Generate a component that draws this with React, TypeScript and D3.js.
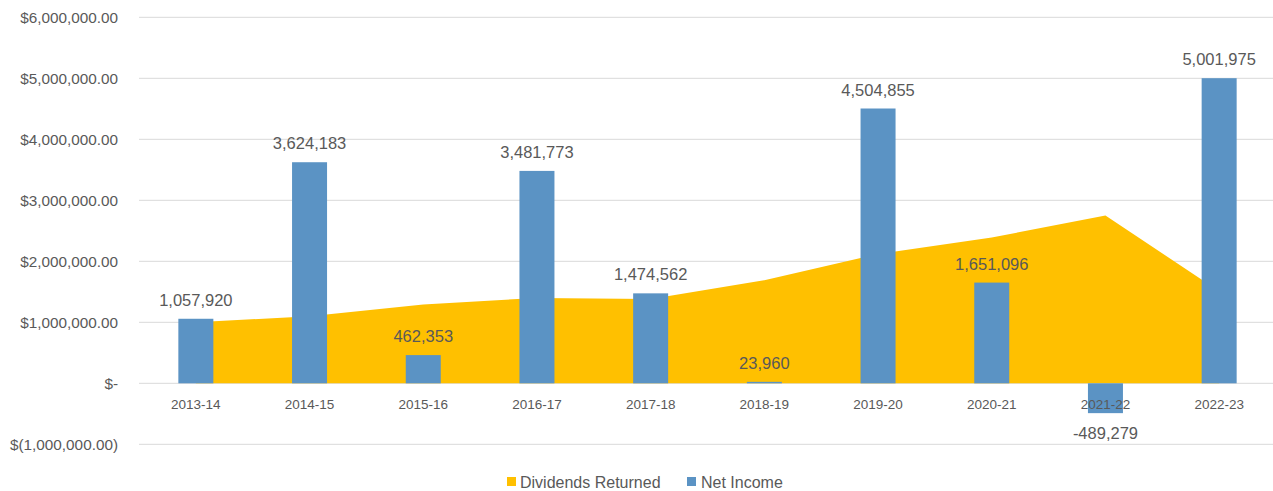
import React from 'react';
import * as d3 from 'd3';

const years = ['2013-14', '2014-15', '2015-16', '2016-17', '2017-18', '2018-19', '2019-20', '2020-21', '2021-22', '2022-23'];
const netIncome = [1057920, 3624183, 462353, 3481773, 1474562, 23960, 4504855, 1651096, -489279, 5001975];
const dividends = [1000000, 1100000, 1290000, 1400000, 1380000, 1690000, 2120000, 2390000, 2750000, 1510000];
const yTicks = [-1000000, 0, 1000000, 2000000, 3000000, 4000000, 5000000, 6000000];

const W = 1273;
const H = 491;
const FONT = '"Liberation Sans", Arial, sans-serif';
const GRAY = '#595959';
const GOLD = '#FFC000';
const BLUE = '#5B93C4';

const money = (v: number) => {
  if (v === 0) return '$-';
  const s = d3.format(',.2f')(Math.abs(v));
  return v < 0 ? `$(${s})` : `$${s}`;
};

// plain hyphen for negatives, like the source sheet
const num = (v: number) => (v < 0 ? '-' : '') + d3.format(',')(Math.abs(v));

const App: React.FC = () => {
  const x = d3.scaleBand<string>().domain(years).range([139, 1276]).padding(0);
  const y = d3.scaleLinear().domain([-1000000, 6000000]).range([444.3, 17.3]);
  const bw = 35;
  const cx = (d: string) => (x(d) ?? 0) + x.bandwidth() / 2;

  const area = d3
    .area<number>()
    .x((_, i) => cx(years[i]))
    .y0(y(0))
    .y1((d) => y(d));

  return (
    <svg
      width={W}
      height={H}
      style={{ position: 'absolute', left: 0, top: 0, background: '#fff', fontFamily: FONT }}
    >
      {/* grid */}
      {yTicks.map((t) => (
        <g key={t}>
          <line x1={139} x2={W} y1={y(t)} y2={y(t)} stroke="#d9d9d9" strokeWidth={1} />
          <text
            x={118}
            y={y(t)}
            textAnchor="end"
            dominantBaseline="central"
            fontSize={15.3}
            fill={GRAY}
          >
            {money(t)}
          </text>
        </g>
      ))}

      {/* dividends area */}
      <path d={area(dividends) ?? ''} fill={GOLD} />

      {/* net income bars */}
      {netIncome.map((v, i) => {
        const c = cx(years[i]);
        const top = y(Math.max(0, v));
        const bot = y(Math.min(0, v));
        return (
          <rect
            key={years[i]}
            x={c - bw / 2}
            y={top}
            width={bw}
            height={Math.max(1, bot - top)}
            fill={BLUE}
          />
        );
      })}

      {/* value labels */}
      {netIncome.map((v, i) => {
        const c = cx(years[i]);
        const ly = v >= 0 ? y(v) - 19 : y(v) + 20;
        return (
          <text
            key={'l' + years[i]}
            x={c}
            y={ly}
            textAnchor="middle"
            dominantBaseline="central"
            fontSize={16.5}
            fill={GRAY}
          >
            {num(v)}
          </text>
        );
      })}

      {/* x labels */}
      {years.map((d) => (
        <text
          key={'x' + d}
          x={cx(d)}
          y={404}
          textAnchor="middle"
          dominantBaseline="central"
          fontSize={13.5}
          fill={GRAY}
        >
          {d}
        </text>
      ))}

      {/* legend */}
      <rect x={507} y={477} width={9} height={9} fill={GOLD} />
      <text x={520} y={482} dominantBaseline="central" fontSize={16} fill={GRAY}>
        Dividends Returned
      </text>
      <rect x={687} y={477} width={9} height={9} fill={BLUE} />
      <text x={701} y={482} dominantBaseline="central" fontSize={16} fill={GRAY}>
        Net Income
      </text>
    </svg>
  );
};

export default App;
